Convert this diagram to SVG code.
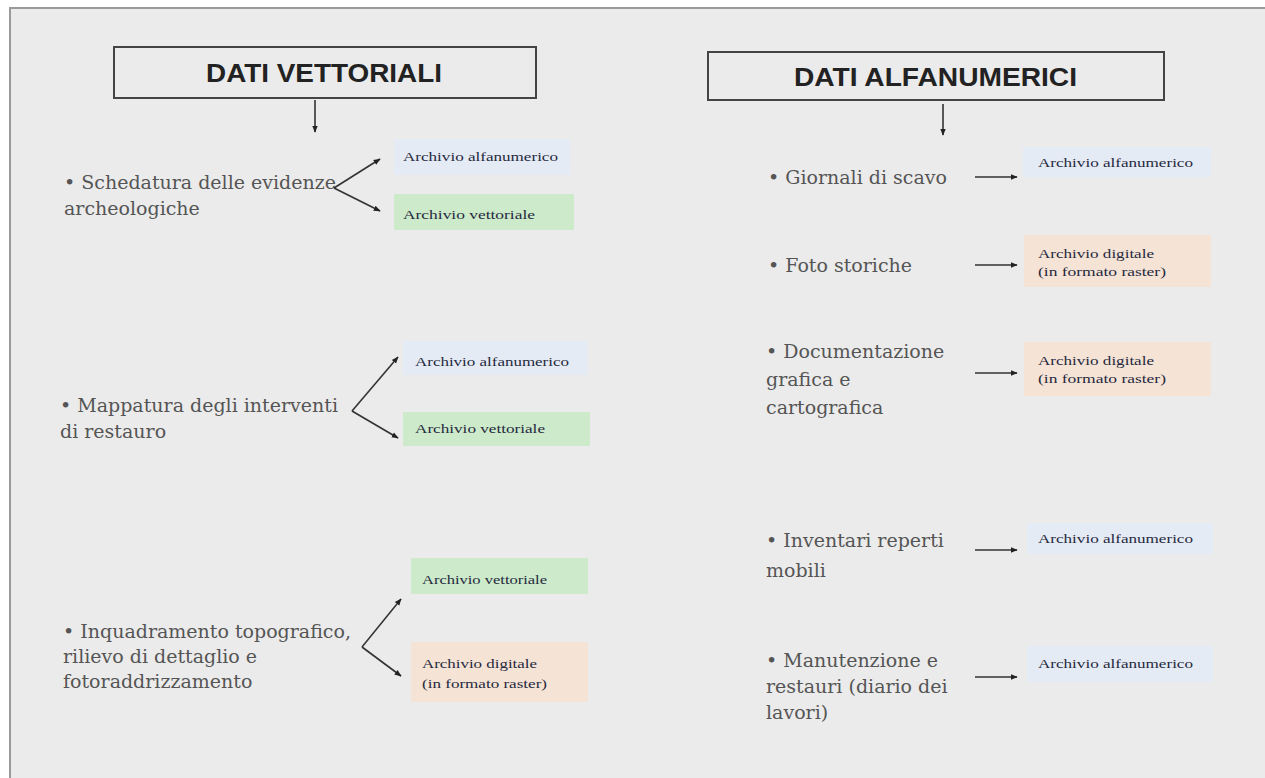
<svg xmlns="http://www.w3.org/2000/svg" width="1265" height="778" viewBox="0 0 1265 778">
<defs>
<marker id="ah" viewBox="0 0 10 10" refX="9" refY="5" markerWidth="7" markerHeight="7" orient="auto" markerUnits="userSpaceOnUse"><path d="M0,1 L10,5 L0,9 Z" fill="#222"/></marker>
<style>
.title{font-family:"Liberation Sans",Arial,sans-serif;font-weight:bold;font-size:26px;fill:#222}
.tbox{fill:none;stroke:#444;stroke-width:2}
.item{font-family:"DejaVu Serif","Liberation Serif",serif;font-size:19px;fill:#555}
.lab{font-family:"Liberation Serif","Times New Roman",serif;font-size:12px;fill:#262a40}
.blue{fill:#e5ebf5}
.green{fill:#cdebca}
.peach{fill:#f5e3d5}
.conn{stroke:#333;stroke-width:1.6;fill:none;marker-end:url(#ah)}
</style>
</defs>
<rect x="0" y="0" width="1265" height="778" fill="#ffffff"/>
<rect x="10" y="8" width="1260" height="775" fill="#ebebeb" stroke="#9a9a9a" stroke-width="2"/>

<g id="title-vettoriali">
<rect class="tbox" x="114" y="47" width="422" height="51"/>
<text class="title" x="206" y="82" textLength="236" lengthAdjust="spacingAndGlyphs">DATI VETTORIALI</text>
</g>
<g id="title-alfanumerici">
<rect class="tbox" x="708" y="52" width="456" height="48"/>
<text class="title" x="794" y="86" textLength="283" lengthAdjust="spacingAndGlyphs">DATI ALFANUMERICI</text>
</g>

<g id="item-schedatura">
<text class="item" x="64" y="189">• Schedatura delle evidenze</text>
<text class="item" x="64" y="215">archeologiche</text>
</g>
<g id="box-s-alfa"><rect class="blue" x="394" y="139" width="176" height="36"/><text class="lab" x="403" y="161" textLength="155" lengthAdjust="spacingAndGlyphs">Archivio alfanumerico</text></g>
<g id="box-s-vett"><rect class="green" x="394" y="194" width="180" height="36"/><text class="lab" x="403" y="219" textLength="132" lengthAdjust="spacingAndGlyphs">Archivio vettoriale</text></g>

<g id="item-mappatura">
<text class="item" x="60" y="412">• Mappatura degli interventi</text>
<text class="item" x="60" y="438">di restauro</text>
</g>
<g id="box-m-alfa"><rect class="blue" x="403" y="341" width="185" height="34"/><text class="lab" x="415" y="366" textLength="154" lengthAdjust="spacingAndGlyphs">Archivio alfanumerico</text></g>
<g id="box-m-vett"><rect class="green" x="403" y="412" width="187" height="34"/><text class="lab" x="415" y="433" textLength="130" lengthAdjust="spacingAndGlyphs">Archivio vettoriale</text></g>

<g id="item-inquadramento">
<text class="item" x="63" y="638">• Inquadramento topografico,</text>
<text class="item" x="63" y="663">rilievo di dettaglio e</text>
<text class="item" x="63" y="688">fotoraddrizzamento</text>
</g>
<g id="box-i-vett"><rect class="green" x="411" y="558" width="177" height="36"/><text class="lab" x="422" y="584" textLength="125" lengthAdjust="spacingAndGlyphs">Archivio vettoriale</text></g>
<g id="box-i-dig"><rect class="peach" x="411" y="642" width="177" height="60"/><text class="lab" x="422" y="668" textLength="115" lengthAdjust="spacingAndGlyphs">Archivio digitale</text><text class="lab" x="422" y="688" textLength="125" lengthAdjust="spacingAndGlyphs">(in formato raster)</text></g>

<g id="item-giornali"><text class="item" x="768" y="184">• Giornali di scavo</text></g>
<g id="box-g-alfa"><rect class="blue" x="1023" y="147" width="188" height="30"/><text class="lab" x="1038" y="167" textLength="155" lengthAdjust="spacingAndGlyphs">Archivio alfanumerico</text></g>

<g id="item-foto"><text class="item" x="768" y="272">• Foto storiche</text></g>
<g id="box-f-dig"><rect class="peach" x="1024" y="235" width="187" height="52"/><text class="lab" x="1038" y="258" textLength="116" lengthAdjust="spacingAndGlyphs">Archivio digitale</text><text class="lab" x="1038" y="276" textLength="128" lengthAdjust="spacingAndGlyphs">(in formato raster)</text></g>

<g id="item-documentazione">
<text class="item" x="766" y="358">• Documentazione</text>
<text class="item" x="766" y="386">grafica e</text>
<text class="item" x="766" y="414">cartografica</text>
</g>
<g id="box-d-dig"><rect class="peach" x="1024" y="342" width="187" height="54"/><text class="lab" x="1038" y="365" textLength="116" lengthAdjust="spacingAndGlyphs">Archivio digitale</text><text class="lab" x="1038" y="383" textLength="128" lengthAdjust="spacingAndGlyphs">(in formato raster)</text></g>

<g id="item-inventari">
<text class="item" x="766" y="547">• Inventari reperti</text>
<text class="item" x="766" y="577">mobili</text>
</g>
<g id="box-inv-alfa"><rect class="blue" x="1027" y="523" width="186" height="31"/><text class="lab" x="1038" y="543" textLength="155" lengthAdjust="spacingAndGlyphs">Archivio alfanumerico</text></g>

<g id="item-manutenzione">
<text class="item" x="766" y="667">• Manutenzione e</text>
<text class="item" x="766" y="693">restauri (diario dei</text>
<text class="item" x="766" y="719">lavori)</text>
</g>
<g id="box-man-alfa"><rect class="blue" x="1027" y="646" width="186" height="36"/><text class="lab" x="1038" y="668" textLength="155" lengthAdjust="spacingAndGlyphs">Archivio alfanumerico</text></g>

<g id="connectors">
<line class="conn" x1="315" y1="100" x2="315" y2="132"/>
<line class="conn" x1="943" y1="104" x2="943" y2="135"/>
<line class="conn" x1="334" y1="188" x2="380" y2="159"/>
<line class="conn" x1="334" y1="188" x2="380" y2="211"/>
<line class="conn" x1="352" y1="411" x2="398" y2="357"/>
<line class="conn" x1="352" y1="411" x2="398" y2="438"/>
<line class="conn" x1="362" y1="647" x2="401" y2="599"/>
<line class="conn" x1="362" y1="647" x2="401" y2="676"/>
<line class="conn" x1="975" y1="177" x2="1017" y2="177"/>
<line class="conn" x1="975" y1="265" x2="1017" y2="265"/>
<line class="conn" x1="975" y1="373" x2="1017" y2="373"/>
<line class="conn" x1="975" y1="550" x2="1017" y2="550"/>
<line class="conn" x1="975" y1="677" x2="1017" y2="677"/>
</g>
</svg>
